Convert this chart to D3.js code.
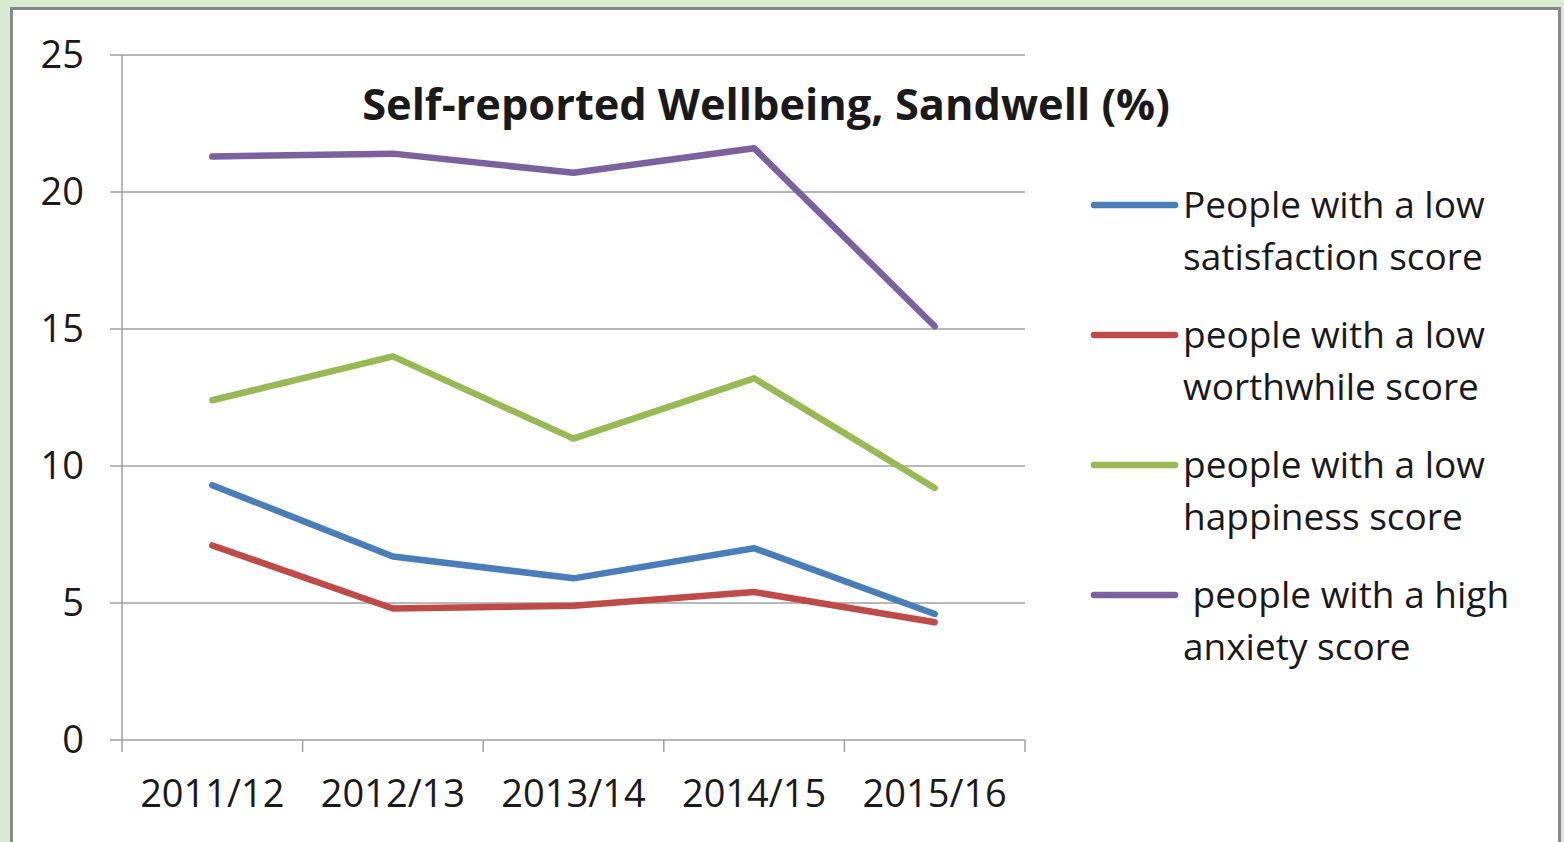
<!DOCTYPE html>
<html>
<head>
<meta charset="utf-8">
<script src="https://cdn.jsdelivr.net/npm/d3@7"></script>
<style>
  html, body { margin: 0; padding: 0; background: #d9ead3; }
  svg { display: block; }
  text { font-family: "Open Sans", "Noto Sans", sans-serif; fill: #1a1a1a; }
</style>
</head>
<body>
<svg id="chart" width="1564" height="842"></svg>
<script>
// data
var years = ["2011/12", "2012/13", "2013/14", "2014/15", "2015/16"];
var lowSatisfaction = [9.3, 6.7, 5.9, 7.0, 4.6];
var lowWorthwhile = [7.1, 4.8, 4.9, 5.4, 4.3];
var lowHappiness = [12.4, 14.0, 11.0, 13.2, 9.2];
var highAnxiety = [21.3, 21.4, 20.7, 21.6, 15.1];
var yTicks = [0, 5, 10, 15, 20, 25];

var seriesNames = [
    ["People with a low", "satisfaction score"],
    ["people with a low", "worthwhile score"],
    ["people with a low", "happiness score"],
    [" people with a high", "anxiety score"]
];
var seriesColors = ["#4a7ebb", "#be4b48", "#98b954", "#7d60a0"];
var allSeries = [lowSatisfaction, lowWorthwhile, lowHappiness, highAnxiety];

var svg = d3.select("#chart");

// frame
svg.append("rect")
    .attr("x", 11.5).attr("y", 8.5)
    .attr("width", 1548).attr("height", 850)
    .attr("fill", "#fff")
    .attr("stroke", "#888").attr("stroke-width", 3);

var x = d3.scaleBand().domain(years).range([122, 1025]);
var y = d3.scaleLinear().domain([0, 25]).range([740, 55]);

// gridlines
svg.append("g").selectAll("line")
    .data(yTicks)
    .enter().append("line")
    .attr("x1", 110).attr("x2", 1025)
    .attr("y1", function(d) { return y(d); })
    .attr("y2", function(d) { return y(d); })
    .attr("stroke", "#a0a0a0").attr("stroke-width", 1.5);

// y axis line
svg.append("line")
    .attr("x1", 122).attr("x2", 122)
    .attr("y1", y(25)).attr("y2", y(0) + 12)
    .attr("stroke", "#a0a0a0").attr("stroke-width", 1.5);

// x ticks at category boundaries
var bounds = years.map(function(d) { return x(d); }).concat([x.range()[1]]);
svg.append("g").selectAll("line")
    .data(bounds.slice(1))
    .enter().append("line")
    .attr("x1", function(d) { return d; }).attr("x2", function(d) { return d; })
    .attr("y1", y(0)).attr("y2", y(0) + 12)
    .attr("stroke", "#a0a0a0").attr("stroke-width", 1.5);

// y labels
svg.append("g").selectAll("text")
    .data(yTicks)
    .enter().append("text")
    .attr("x", 84)
    .attr("y", function(d) { return y(d) + 13; })
    .attr("text-anchor", "end")
    .style("font-size", "38px")
    .text(function(d) { return d; });

// x labels
svg.append("g").selectAll("text")
    .data(years)
    .enter().append("text")
    .attr("x", function(d) { return x(d) + x.bandwidth() / 2; })
    .attr("y", 807)
    .attr("text-anchor", "middle")
    .style("font-size", "38px")
    .text(function(d) { return d; });

// lines
var line = d3.line()
    .x(function(d, i) { return x(years[i]) + x.bandwidth() / 2; })
    .y(function(d) { return y(d); });

svg.append("g").selectAll("path")
    .data(allSeries)
    .enter().append("path")
    .attr("d", line)
    .attr("fill", "none")
    .attr("stroke", function(d, i) { return seriesColors[i]; })
    .attr("stroke-width", 6.5)
    .attr("stroke-linejoin", "round")
    .attr("stroke-linecap", "round");

// title
var title = svg.append("text")
    .attr("x", 766)
    .attr("y", 120)
    .attr("text-anchor", "middle")
    .style("font-size", "40px")
    .style("font-weight", "bold")
    .text("Self-reported Wellbeing, Sandwell (%)");
var tw = title.node().getComputedTextLength();
title.style("font-size", (40 * 808 / tw) + "px");

// legend
var legend = svg.append("g").selectAll("g")
    .data(seriesNames)
    .enter().append("g")
    .attr("transform", function(d, i) { return "translate(0," + (205 + i * 130) + ")"; });

legend.append("line")
    .attr("x1", 1094).attr("x2", 1175)
    .attr("stroke", function(d, i) { return seriesColors[i]; })
    .attr("stroke-width", 6.5)
    .attr("stroke-linecap", "round");

legend.append("text")
    .attr("x", 1183)
    .attr("y", 13)
    .style("font-size", "37px")
    .style("white-space", "pre")
    .text(function(d) { return d[0]; });

legend.append("text")
    .attr("x", 1183)
    .attr("y", 65)
    .style("font-size", "37px")
    .text(function(d) { return d[1]; });
</script>
</body>
</html>
